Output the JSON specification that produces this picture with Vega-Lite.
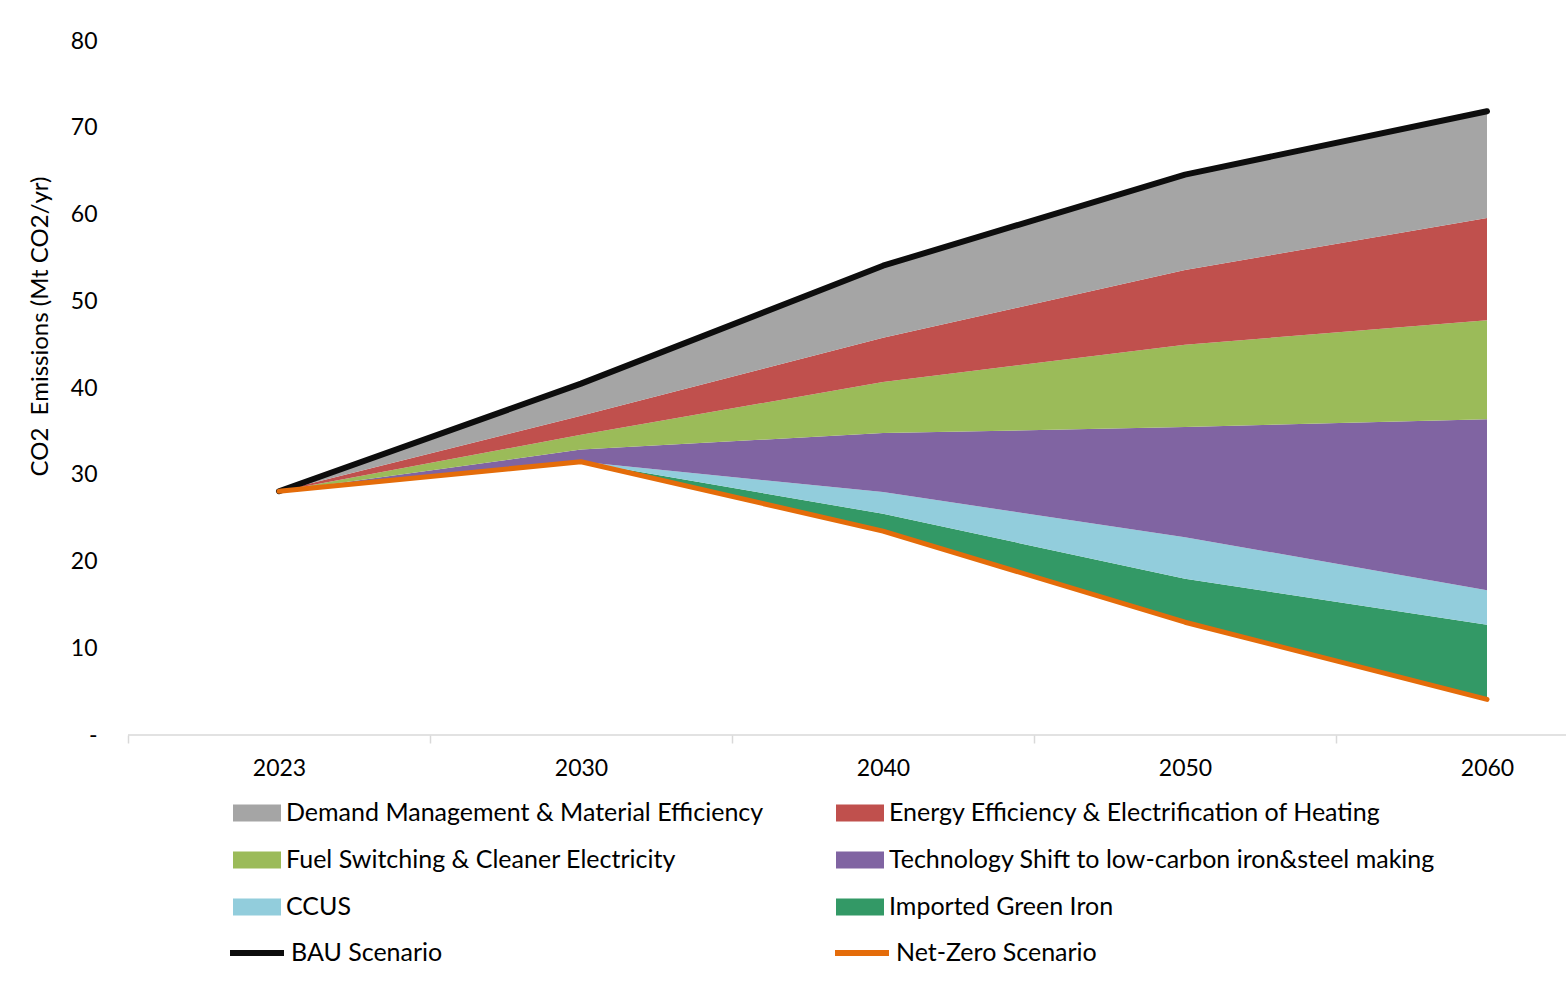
{
  "$schema": "https://vega.github.io/schema/vega-lite/v6.json",
  "autosize": "none",
  "width": 1438,
  "height": 694,
  "padding": {"left": 128, "top": 41, "right": 0, "bottom": 265},
  "background": "white",
  "config": {
    "font": "Lato",
    "view": {"stroke": null},
    "axis": {"labelFont": "Lato", "titleFont": "Lato", "labelColor": "#000000", "titleColor": "#000000"},
    "legend": {"labelFont": "Lato", "labelColor": "#000000"}
  },
  "datasets": {
    "areas": [
      {"year": "2023", "series": "Base", "rank": 0, "value": 28.1},
      {"year": "2023", "series": "Imported Green Iron", "rank": 1, "value": 0},
      {"year": "2023", "series": "CCUS", "rank": 2, "value": 0},
      {"year": "2023", "series": "Technology Shift to low-carbon iron&steel making", "rank": 3, "value": 0},
      {"year": "2023", "series": "Fuel Switching & Cleaner Electricity", "rank": 4, "value": 0},
      {"year": "2023", "series": "Energy Efficiency & Electrification of Heating", "rank": 5, "value": 0},
      {"year": "2023", "series": "Demand Management & Material Efficiency", "rank": 6, "value": 0},
      {"year": "2030", "series": "Base", "rank": 0, "value": 31.5},
      {"year": "2030", "series": "Imported Green Iron", "rank": 1, "value": 0},
      {"year": "2030", "series": "CCUS", "rank": 2, "value": 0},
      {"year": "2030", "series": "Technology Shift to low-carbon iron&steel making", "rank": 3, "value": 1.4},
      {"year": "2030", "series": "Fuel Switching & Cleaner Electricity", "rank": 4, "value": 1.7},
      {"year": "2030", "series": "Energy Efficiency & Electrification of Heating", "rank": 5, "value": 2.2},
      {"year": "2030", "series": "Demand Management & Material Efficiency", "rank": 6, "value": 3.7},
      {"year": "2040", "series": "Base", "rank": 0, "value": 23.5},
      {"year": "2040", "series": "Imported Green Iron", "rank": 1, "value": 2.0},
      {"year": "2040", "series": "CCUS", "rank": 2, "value": 2.5},
      {"year": "2040", "series": "Technology Shift to low-carbon iron&steel making", "rank": 3, "value": 6.8},
      {"year": "2040", "series": "Fuel Switching & Cleaner Electricity", "rank": 4, "value": 5.9},
      {"year": "2040", "series": "Energy Efficiency & Electrification of Heating", "rank": 5, "value": 5.1},
      {"year": "2040", "series": "Demand Management & Material Efficiency", "rank": 6, "value": 8.3},
      {"year": "2050", "series": "Base", "rank": 0, "value": 13.0},
      {"year": "2050", "series": "Imported Green Iron", "rank": 1, "value": 5.0},
      {"year": "2050", "series": "CCUS", "rank": 2, "value": 4.8},
      {"year": "2050", "series": "Technology Shift to low-carbon iron&steel making", "rank": 3, "value": 12.7},
      {"year": "2050", "series": "Fuel Switching & Cleaner Electricity", "rank": 4, "value": 9.5},
      {"year": "2050", "series": "Energy Efficiency & Electrification of Heating", "rank": 5, "value": 8.6},
      {"year": "2050", "series": "Demand Management & Material Efficiency", "rank": 6, "value": 11.0},
      {"year": "2060", "series": "Base", "rank": 0, "value": 4.1},
      {"year": "2060", "series": "Imported Green Iron", "rank": 1, "value": 8.6},
      {"year": "2060", "series": "CCUS", "rank": 2, "value": 4.0},
      {"year": "2060", "series": "Technology Shift to low-carbon iron&steel making", "rank": 3, "value": 19.7},
      {"year": "2060", "series": "Fuel Switching & Cleaner Electricity", "rank": 4, "value": 11.4},
      {"year": "2060", "series": "Energy Efficiency & Electrification of Heating", "rank": 5, "value": 11.8},
      {"year": "2060", "series": "Demand Management & Material Efficiency", "rank": 6, "value": 12.3}
    ],
    "lines": [
      {"year": "2023", "scenario": "BAU Scenario", "value": 28.1},
      {"year": "2030", "scenario": "BAU Scenario", "value": 40.5},
      {"year": "2040", "scenario": "BAU Scenario", "value": 54.1},
      {"year": "2050", "scenario": "BAU Scenario", "value": 64.6},
      {"year": "2060", "scenario": "BAU Scenario", "value": 71.9},
      {"year": "2023", "scenario": "Net-Zero Scenario", "value": 28.1},
      {"year": "2030", "scenario": "Net-Zero Scenario", "value": 31.5},
      {"year": "2040", "scenario": "Net-Zero Scenario", "value": 23.5},
      {"year": "2050", "scenario": "Net-Zero Scenario", "value": 13.0},
      {"year": "2060", "scenario": "Net-Zero Scenario", "value": 4.1}
    ]
  },
  "layer": [
    {
      "data": {"name": "areas"},
      "mark": {"type": "area", "interpolate": "linear", "opacity": 1},
      "encoding": {
        "x": {
          "field": "year", "type": "ordinal",
          "scale": {"type": "point", "range": [151, 1359], "padding": 0},
          "axis": {
            "title": null, "labelAngle": 0, "domain": false,
            "ticks": true, "tickSize": 8, "tickColor": "#D9D9D9", "tickWidth": 1.5,
            "tickOffset": -151, "labelOffset": 151,
            "labelFontSize": 23, "labelPadding": 14, "grid": false
          }
        },
        "y": {
          "field": "value", "type": "quantitative", "stack": "zero",
          "scale": {"domain": [0, 80], "nice": false},
          "axis": {
            "title": "CO2\u00a0 Emissions (Mt CO2/yr)",
            "titleFontSize": 24, "titleFontWeight": "normal",
            "titleX": -88, "titleY": 285, "titleAngle": -90,
            "titleAlign": "center", "titleBaseline": "middle",
            "domain": false, "ticks": false, "tickSize": 0, "grid": false,
            "values": [0, 10, 20, 30, 40, 50, 60, 70, 80],
            "labelExpr": "datum.value == 0 ? '-' : datum.label",
            "labelFontSize": 23, "labelPadding": 31
          }
        },
        "order": {"field": "rank", "type": "quantitative", "sort": "ascending"},
        "color": {
          "field": "series", "type": "nominal",
          "scale": {
            "domain": [
              "Demand Management & Material Efficiency",
              "Energy Efficiency & Electrification of Heating",
              "Fuel Switching & Cleaner Electricity",
              "Technology Shift to low-carbon iron&steel making",
              "CCUS",
              "Imported Green Iron",
              "Base"
            ],
            "range": ["#A5A5A5", "#C0504D", "#9BBB59", "#8064A2", "#92CDDC", "#339966", "transparent"]
          },
          "legend": {
            "title": null,
            "orient": "none",
            "legendX": 105,
            "legendY": 748,
            "direction": "horizontal",
            "columns": 2,
            "columnPadding": 72,
            "rowPadding": 10,
            "values": [
              "Demand Management & Material Efficiency",
              "Energy Efficiency & Electrification of Heating",
              "Fuel Switching & Cleaner Electricity",
              "Technology Shift to low-carbon iron&steel making",
              "CCUS",
              "Imported Green Iron"
            ],
            "symbolType": "M-1,-0.35H1V0.35H-1Z",
            "symbolSize": 2304,
            "symbolStrokeWidth": 0,
            "symbolOpacity": 1,
            "labelFontSize": 25,
            "labelOffset": 5,
            "labelLimit": 800
          }
        }
      }
    },
    {
      "data": {"values": [{}]},
      "mark": {"type": "rule", "color": "#D9D9D9", "strokeWidth": 1.5},
      "encoding": {"y": {"datum": 0, "type": "quantitative"}}
    },
    {
      "data": {"name": "lines"},
      "transform": [{"filter": "datum.scenario == 'BAU Scenario'"}],
      "mark": {"type": "line", "strokeWidth": 6, "strokeCap": "round", "strokeJoin": "round"},
      "encoding": {
        "x": {"field": "year", "type": "ordinal"},
        "y": {"field": "value", "type": "quantitative"},
        "stroke": {
          "field": "scenario", "type": "nominal",
          "scale": {"domain": ["BAU Scenario", "Net-Zero Scenario"], "range": ["#0D0D0D", "#E46C0A"]},
          "legend": {
            "title": null,
            "orient": "none",
            "legendX": 99,
            "legendY": 882,
            "direction": "horizontal",
            "columns": 2,
            "columnPadding": 380,
            "symbolType": "stroke",
            "symbolSize": 2916,
            "symbolStrokeWidth": 6,
            "labelFontSize": 25,
            "labelOffset": 4,
            "labelLimit": 800
          }
        }
      }
    },
    {
      "data": {"name": "lines"},
      "transform": [{"filter": "datum.scenario == 'Net-Zero Scenario'"}],
      "mark": {"type": "line", "strokeWidth": 5, "strokeCap": "round", "strokeJoin": "round"},
      "encoding": {
        "x": {"field": "year", "type": "ordinal"},
        "y": {"field": "value", "type": "quantitative"},
        "stroke": {"field": "scenario", "type": "nominal"}
      }
    }
  ]
}
